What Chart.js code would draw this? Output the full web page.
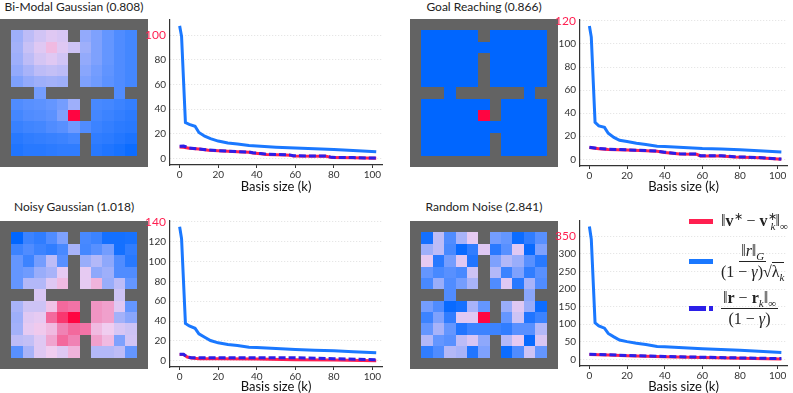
<!DOCTYPE html>
<html>
<head>
<meta charset="utf-8">
<script src="https://cdn.jsdelivr.net/npm/chart.js@4.4.1/dist/chart.umd.min.js"></script>
<style>
  body { margin: 0; width: 793px; height: 393px; overflow: hidden; background: #fff; position: relative; font-family: Lato, sans-serif; }
  canvas, .title, .leg { position: absolute; }
  .title { width: 200px; text-align: center; font-size: 12px; line-height: 14px; color: #222; white-space: nowrap; }
  .leg { display: flex; align-items: center; font-family: "Liberation Serif", serif; font-size: 16px; color: #222; line-height: 1; white-space: nowrap; }
  .sw { width: 24px; height: 5px; margin-right: 8px; flex: none; }
  .frac { display: inline-flex; flex-direction: column; align-items: center; }
  .frac .num { border-bottom: 1px solid #222; padding: 0 2px 2px; }
  .frac .den { padding-top: 2px; }
  sub, sup { font-size: 11px; line-height: 0; }
</style>
</head>
<body>
<div class="title" style="left:-26px;top:0px">Bi-Modal Gaussian (0.808)</div>
<div class="title" style="left:384px;top:0px">Goal Reaching (0.866)</div>
<div class="title" style="left:-26px;top:200px">Noisy Gaussian (1.018)</div>
<div class="title" style="left:384px;top:200px">Random Noise (2.841)</div>

<canvas id="map1" width="148" height="148" style="left:0px;top:19px"></canvas>
<canvas id="map2" width="148" height="148" style="left:410px;top:19px"></canvas>
<canvas id="map3" width="148" height="148" style="left:0px;top:221px"></canvas>
<canvas id="map4" width="148" height="148" style="left:410px;top:221px"></canvas>

<canvas id="line1" width="252" height="192" style="left:140px;top:8px"></canvas>
<canvas id="line2" width="243" height="192" style="left:550px;top:8px"></canvas>
<canvas id="line3" width="252" height="191" style="left:140px;top:209px"></canvas>
<canvas id="line4" width="243" height="191" style="left:550px;top:209px"></canvas>

<div class="leg" style="left:689px;top:213px">
  <div class="sw" style="background:#ff1f50"></div>
  <span>‖<b>v</b><sup>∗</sup> − <b>v</b><sup>∗</sup><sub style="margin-left:-6px"><i>k</i></sub>‖<sub>∞</sub></span>
</div>
<div class="leg" style="left:689px;top:243px">
  <div class="sw" style="background:#1a78ff"></div>
  <span class="frac"><span class="num">‖<i>r</i>‖<sub><i>G</i></sub></span><span class="den">(1 − <i>γ</i>)√<span style="border-top:1px solid #222">λ<sub><i>k</i></sub></span></span></span>
</div>
<div class="leg" style="left:689px;top:290px">
  <div class="sw" style="background:linear-gradient(90deg,#2b1fe8 0 17px,transparent 17px 20px,#2b1fe8 20px 24px)"></div>
  <span class="frac"><span class="num">‖<b>r</b> − <b>r</b><sub><i>k</i></sub>‖<sub>∞</sub></span><span class="den">(1 − <i>γ</i>)</span></span>
</div>

<script>
const _ = null;

// value maps on the 13x13 four-room grid (null = wall)
const BIMODAL_MAP = [
  [_,_,_,_,_,_,_,_,_,_,_,_,_],
  [_,.36,.42,.46,.50,.48,_,.34,.30,.25,.20,.17,_],
  [_,.37,.44,.50,.60,.50,.45,.36,.30,.25,.20,.17,_],
  [_,.36,.42,.47,.50,.46,_,.34,.30,.25,.20,.17,_],
  [_,.34,.38,.42,.43,.42,_,.32,.28,.24,.20,.17,_],
  [_,.30,.34,.36,.37,.36,_,.30,.27,.23,.20,.17,_],
  [_,_,_,.28,_,_,_,_,_,_,.20,_,_],
  [_,.20,.22,.23,.25,.28,.36,_,.18,.17,.15,.13,_],
  [_,.17,.20,.21,.23,.30,1.0,_,.17,.15,.13,.11,_],
  [_,.14,.16,.17,.20,.22,.27,.20,.15,.13,.11,.10,_],
  [_,.10,.12,.13,.14,.15,.17,_,.12,.11,.09,.07,_],
  [_,.08,.10,.10,.11,.12,.12,_,.10,.08,.06,.03,_],
  [_,_,_,_,_,_,_,_,_,_,_,_,_],
];
const GOAL_MAP = [
  [_,_,_,_,_,_,_,_,_,_,_,_,_],
  [_,0,0,0,0,0,_,0,0,0,0,0,_],
  [_,0,0,0,0,0,0,0,0,0,0,0,_],
  [_,0,0,0,0,0,_,0,0,0,0,0,_],
  [_,0,0,0,0,0,_,0,0,0,0,0,_],
  [_,0,0,0,0,0,_,0,0,0,0,0,_],
  [_,_,_,0,_,_,_,_,_,_,0,_,_],
  [_,0,0,0,0,0,0,_,0,0,0,0,_],
  [_,0,0,0,0,0,1,_,0,0,0,0,_],
  [_,0,0,0,0,0,0,0,0,0,0,0,_],
  [_,0,0,0,0,0,0,_,0,0,0,0,_],
  [_,0,0,0,0,0,0,_,0,0,0,0,_],
  [_,_,_,_,_,_,_,_,_,_,_,_,_],
];
const NOISY_MAP = [
  [_,_,_,_,_,_,_,_,_,_,_,_,_],
  [_,.00,.15,.12,.20,.30,_,.18,.15,.05,.05,.06,_],
  [_,.15,.20,.15,.12,.18,.38,.17,.22,.28,.05,.12,_],
  [_,.25,.15,.28,.42,.22,_,.35,.40,.33,.20,.10,_],
  [_,.25,.27,.35,.38,.52,_,.52,.33,.36,.20,.20,_],
  [_,.25,.40,.40,.50,.60,_,.52,.62,.35,.42,.25,_],
  [_,_,_,.48,_,_,_,_,_,_,.45,_,_],
  [_,.38,.45,.45,.58,.80,.78,_,.70,.67,.50,.25,_],
  [_,.36,.50,.52,.80,.90,1.0,_,.70,.67,.37,.32,_],
  [_,.37,.52,.56,.60,.75,.80,.78,.60,.55,.48,.45,_],
  [_,.42,.43,.50,.66,.80,.75,_,.67,.60,.30,.46,_],
  [_,.22,.38,.50,.55,.50,.62,_,.40,.40,.42,.25,_],
  [_,_,_,_,_,_,_,_,_,_,_,_,_],
];
const RANDOM_MAP = [
  [_,_,_,_,_,_,_,_,_,_,_,_,_],
  [_,.05,.42,.20,.38,.52,_,.28,.25,.03,.12,.22,_],
  [_,.36,.42,.18,.02,.12,.50,.10,.22,.50,.02,.30,_],
  [_,.52,.10,.28,.50,.08,_,.30,.40,.35,.22,.10,_],
  [_,.25,.18,.22,.18,.45,_,.40,.15,.30,.12,.22,_],
  [_,.18,.35,.20,.28,.38,_,.20,.50,.10,.38,.20,_],
  [_,_,_,.20,_,_,_,_,_,_,.32,_,_],
  [_,.28,.20,.02,.05,.38,.25,_,.35,.50,.35,.03,_],
  [_,.15,.30,.12,.50,.50,1.0,_,.25,.45,.08,.15,_],
  [_,.25,.38,.25,.08,.15,.15,.15,.12,.22,.22,.40,_],
  [_,.40,.25,.22,.42,.48,.33,_,.40,.52,.02,.48,_],
  [_,.12,.20,.40,.38,.08,.30,_,.03,.20,.45,.25,_],
  [_,_,_,_,_,_,_,_,_,_,_,_,_],
];

// error curves vs basis size k
const K_BOUND = [0, 1, 3, 5, 8, 10, 13, 16, 20, 25, 30, 36, 40, 50, 60, 70, 80, 90, 102];
const BIMODAL_BOUND = [107.5, 99, 29, 27.5, 26, 21, 18, 16, 14, 12.5, 11.7, 10.4, 10, 9, 8.3, 7.7, 7.2, 6.4, 5.3];
const GOAL_BOUND = [115.7, 106, 32, 29, 27.7, 22.6, 19, 16.5, 15.4, 14, 12.9, 11.4, 11.1, 10.3, 9.4, 8.9, 8.3, 7.4, 6.3];
const NOISY_BOUND = [135, 123, 37.6, 35, 32.6, 27, 23.6, 20.3, 18, 16.3, 15.3, 13.6, 13.3, 12.3, 11.3, 10.6, 10, 9, 8];
const RANDOM_BOUND = [378, 342, 104, 95, 88.7, 73.7, 64, 55, 50.4, 45.7, 42, 36.4, 35.5, 32.7, 29.9, 28, 26, 23.3, 19.6];

const BIMODAL_K = [0, 2, 5, 10, 15, 20, 30, 36, 38, 42, 45, 55, 57, 59, 76, 79, 90, 102];
const BIMODAL_ERR = [9.3, 9.0, 8.2, 7.5, 6.6, 6.1, 5.3, 5.0, 4.3, 3.7, 3.2, 2.7, 2.6, 1.9, 1.6, 0.6, 0.4, 0];
const BIMODAL_R_ERR = [9.8, 10, 8.4, 7.6, 6.8, 6.3, 5.5, 5.1, 4.5, 3.9, 3.4, 2.9, 2.8, 2.1, 1.8, 0.8, 0.6, 0.2];

const GOAL_K = [0, 5, 10, 20, 30, 36, 40, 48, 57, 59, 70, 77, 90, 102];
const GOAL_ERR = [10.3, 9.1, 8.6, 8, 7.4, 6.9, 6, 4.6, 4.3, 2.9, 2.9, 2, 1.4, 0];
const GOAL_R_ERR = [10.5, 9.3, 8.8, 8.2, 7.6, 7.1, 6.2, 4.8, 4.5, 3.1, 3.1, 2.2, 1.6, 0.2];

const NOISY_K = [0, 2, 4, 6, 10, 20, 40, 60, 80, 102];
const NOISY_ERR = [6.3, 6.3, 3.7, 2.7, 2, 1.9, 1.7, 1, 0.6, 0];
const NOISY_R_ERR = [6.5, 6.5, 3.5, 3, 3, 3, 3, 3, 2, 1];

const RANDOM_K = [0, 10, 20, 40, 60, 80, 102];
const RANDOM_ERR = [14, 12, 10, 7, 5, 3, 1];
const RANDOM_R_ERR = [14.5, 13, 11, 8, 6, 4, 2];

const X_TICKS = [0, 20, 40, 60, 80, 100];
const Y_TICKS_1 = [0, 20, 40, 60, 80, 100];
const Y_TICKS_2 = [0, 20, 40, 60, 80, 100, 120];
const Y_TICKS_3 = [0, 20, 40, 60, 80, 100, 120, 140];
const Y_TICKS_4 = [0, 50, 100, 150, 200, 250, 300, 350];

const RED = '#ff1f50';
const BLUE = '#1a78ff';
const DASH = '#2b1fe8';
const WALL = '#636363';
const FONT = 'Lato, sans-serif';

// blue -> lavender -> red
const CMAP = [
  [0.00, [0, 102, 255]],
  [0.25, [100, 150, 255]],
  [0.45, [205, 195, 245]],
  [0.55, [240, 205, 240]],
  [0.75, [240, 130, 180]],
  [1.00, [255, 5, 65]],
];
function cmap(v) {
  for (let i = 1; i < CMAP.length; i++) {
    const [t1, c1] = CMAP[i], [t0, c0] = CMAP[i - 1];
    if (v <= t1) {
      const f = (v - t0) / (t1 - t0);
      return 'rgb(' + c0.map((c, j) => Math.round(c + (c1[j] - c) * f)).join(',') + ')';
    }
  }
  return 'rgb(' + CMAP[CMAP.length - 1][1].join(',') + ')';
}

const cellPlugin = {
  id: 'cells',
  beforeDatasetsDraw(chart) {
    const { ctx, chartArea: a, scales: { x, y } } = chart;
    ctx.save();
    ctx.fillStyle = WALL;
    ctx.fillRect(a.left, a.top, a.right - a.left, a.bottom - a.top);
    chart.data.datasets[0].data.forEach(d => {
      const x0 = Math.round(x.getPixelForValue(d.x - 0.5)), x1 = Math.round(x.getPixelForValue(d.x + 0.5));
      const y0 = Math.round(y.getPixelForValue(d.y - 0.5)), y1 = Math.round(y.getPixelForValue(d.y + 0.5));
      ctx.fillStyle = cmap(d.v);
      ctx.fillRect(x0, Math.min(y0, y1), x1 - x0, Math.abs(y1 - y0));
    });
    ctx.restore();
  }
};

function mapChart(id, grid) {
  const cells = [];
  grid.forEach((row, r) => row.forEach((v, c) => { if (v !== null) cells.push({ x: c, y: r, v }); }));
  new Chart(document.getElementById(id), {
    type: 'scatter',
    data: { datasets: [{ data: cells, pointRadius: 0 }] },
    options: {
      responsive: false, animation: false, events: [],
      plugins: { legend: { display: false }, tooltip: { enabled: false } },
      scales: {
        x: { display: false, min: -0.5, max: 12.5 },
        y: { display: false, min: -0.5, max: 12.5, reverse: true }
      }
    },
    plugins: [cellPlugin]
  });
}

function lineChart(id, k, bound, kErr, err, rErr, yMin, yMax, yTicks, padRight, xHeight) {
  const top = yTicks[yTicks.length - 1];
  const pts = (xs, ys) => xs.map((x, i) => ({ x, y: ys[i] }));
  new Chart(document.getElementById(id), {
    type: 'line',
    data: {
      datasets: [
        { data: pts(kErr, rErr), borderColor: DASH, borderWidth: 3, borderDash: [7, 3], pointRadius: 0, tension: 0 },
        { data: pts(kErr, err), borderColor: RED, borderWidth: 3, pointRadius: 0, tension: 0 },
        { data: pts(k, bound), borderColor: BLUE, borderWidth: 3, pointRadius: 0, tension: 0 }
      ]
    },
    options: {
      responsive: false, animation: false, events: [],
      layout: { padding: { top: 9, right: padRight, left: 0, bottom: 0 } },
      plugins: { legend: { display: false }, tooltip: { enabled: false } },
      scales: {
        x: {
          type: 'linear', min: -5, max: 105,
          afterBuildTicks: s => { s.ticks = X_TICKS.map(v => ({ value: v })); },
          afterFit: s => { s.height = xHeight; },
          grid: { drawOnChartArea: false, tickLength: 3, tickColor: '#333' },
          border: { color: '#333', width: 1.2 },
          ticks: { color: '#333', font: { family: FONT, size: 10 }, padding: 1, maxRotation: 0 },
          title: { display: true, text: 'Basis size (k)', color: '#111', font: { family: FONT, size: 13 }, padding: { top: 0, bottom: 5 } }
        },
        y: {
          min: yMin, max: yMax,
          afterBuildTicks: s => { s.ticks = yTicks.map(v => ({ value: v })); },
          afterFit: s => { s.width = 30; },
          grid: { color: '#d8d8d8', lineWidth: 0.8, drawTicks: false },
          border: { color: '#333', width: 1.2, dash: [1, 2] },
          ticks: {
            padding: 4,
            color: c => c.tick && c.tick.value === top ? RED : '#333',
            font: c => ({ family: FONT, size: c.tick && c.tick.value === top ? 12 : 10 })
          }
        }
      }
    }
  });
}

mapChart('map1', BIMODAL_MAP);
mapChart('map2', GOAL_MAP);
mapChart('map3', NOISY_MAP);
mapChart('map4', RANDOM_MAP);

lineChart('line1', K_BOUND, BIMODAL_BOUND, BIMODAL_K, BIMODAL_ERR, BIMODAL_R_ERR, -5.4, 112.9, Y_TICKS_1, 10, 35);
lineChart('line2', K_BOUND, GOAL_BOUND, GOAL_K, GOAL_ERR, GOAL_R_ERR, -5.8, 121.5, Y_TICKS_2, 6, 34);
lineChart('line3', K_BOUND, NOISY_BOUND, NOISY_K, NOISY_ERR, NOISY_R_ERR, -6.4, 141.7, Y_TICKS_3, 10, 33);
lineChart('line4', K_BOUND, RANDOM_BOUND, RANDOM_K, RANDOM_ERR, RANDOM_R_ERR, -19, 396, Y_TICKS_4, 6, 34);
</script>
</body>
</html>
